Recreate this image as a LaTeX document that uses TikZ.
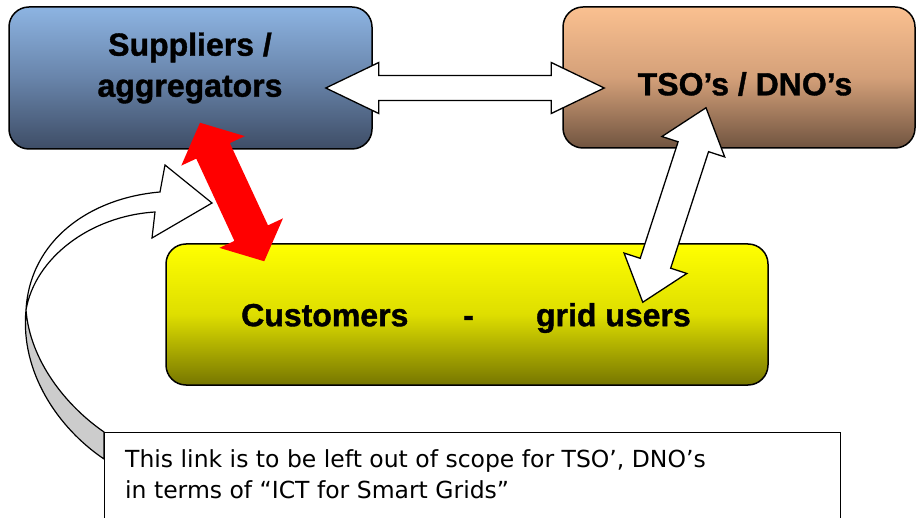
\documentclass[tikz,border=0pt]{standalone}
\usepackage{fontspec}
\setmainfont{Liberation Sans}[BoldFeatures={FakeBold=1.2}]
\newfontfamily\notefont{DejaVu Sans}
\usetikzlibrary{calc}

\definecolor{supTop}{RGB}{141,180,226}
\definecolor{supMid}{RGB}{104,132,170}
\definecolor{supBot}{RGB}{62,77,102}
\definecolor{tsoTop}{RGB}{250,192,144}
\definecolor{tsoMid}{RGB}{212,160,121}
\definecolor{tsoBot}{RGB}{112,84,64}
\definecolor{custTop}{RGB}{255,255,0}
\definecolor{custMid}{RGB}{222,222,0}
\definecolor{custBot}{RGB}{118,118,0}
\definecolor{ribbon}{RGB}{204,204,204}

% fat double arrow: from, to, shaft half width, head half width, head length, style
\newcommand{\fatarrow}[6]{%
  \coordinate (hA) at ($(#1)!#5!(#2)$);
  \coordinate (hB) at ($(#2)!#5!(#1)$);
  \path[#6] (#1) -- ($(hA)!#4!90:(#2)$) -- ($(hA)!#3!90:(#2)$)
    -- ($(hB)!#3!-90:(#1)$) -- ($(hB)!#4!-90:(#1)$) -- (#2)
    -- ($(hB)!#4!90:(#1)$) -- ($(hB)!#3!90:(#1)$)
    -- ($(hA)!#3!-90:(#2)$) -- ($(hA)!#4!-90:(#2)$) -- cycle;}

\begin{document}
\begin{tikzpicture}[x=1pt,y=-1pt,
  box/.style={draw, line width=1.5pt, rounded corners=20pt, inner sep=0pt},
  boxtext/.style={font=\fontsize{32}{41}\selectfont\bfseries, align=center, inner sep=0pt},
  fat/.style={draw, fill=white, line width=1.3pt, line join=miter},
  redfat/.style={fill=red}]
\useasboundingbox (0,0) rectangle (917,518);

\node[box, minimum width=363pt, minimum height=142pt,
  top color=supTop, bottom color=supBot, middle color=supMid] (sup) at (190.5,78) {};
\node[boxtext] (suptxt) at (190,68) {Suppliers /\\aggregators};

\node[box, minimum width=352pt, minimum height=141pt,
  top color=tsoTop, bottom color=tsoBot, middle color=tsoMid] (tso) at (739,77.5) {};
\node[boxtext] (tsotxt) at (745,84) {TSO’s / DNO’s};

\node[box, minimum width=602pt, minimum height=141pt,
  top color=custTop, bottom color=custBot, middle color=custMid] (cust) at (467,314.5) {};
\node[boxtext] (custtxt) at (466,318) {Customers\hspace{55pt}-\hspace{62pt}grid users};

% curved ribbon from the note up to the suppliers
\coordinate (ctip) at (212,203);
\coordinate (pinch) at (26,310);
\node[draw, line width=1.2pt, minimum width=736pt, minimum height=110pt, anchor=north west,
  inner sep=0pt] (note) at (104,432) {};
\coordinate (rA) at ($(note.north west)+(0,27)$);
\coordinate (rB) at (note.north west);
\draw[fill=ribbon, line width=1.2pt] (pinch) .. controls (20,372) and (58,428) .. (rA)
  -- (rB) .. controls (65,405) and (30,360) .. (pinch);
\draw[fill=white, line width=1.2pt, line join=miter] (ctip) -- ($(ctip)+(-47,-38)$) -- ($(ctip)+(-52,-11)$)
  .. controls (90,198) and (30,240) .. (pinch)
  .. controls (35,258) and (90,216) .. ($(ctip)+(-57,9)$) -- ($(ctip)+(-60,35)$) -- cycle;
\node[draw, fill=white, line width=1.2pt, minimum width=736pt, minimum height=110pt, anchor=north west,
  inner sep=0pt] at (note.north west) {};
\node[anchor=north west, align=left, inner sep=0pt,
  font=\notefont\fontsize{23.5}{31}\selectfont] (notetxt) at (125,449)
  {This link is to be left out of scope for TSO’, DNO’s\\in terms of “ICT for Smart Grids”};

% fat arrows between the boxes
\coordinate (supR) at ($(sup.east)+(-47,10)$);
\coordinate (tsoL) at ($(tso.west)+(42,10.5)$);
\fatarrow{supR}{tsoL}{12.5pt}{25.5pt}{53pt}{fat}

\coordinate (supB) at ($(sup.south)+(9.5,-27)$);
\coordinate (custT) at ($(cust.north west)+(99,18)$);
\fatarrow{supB}{custT}{18.5pt}{35pt}{31pt}{redfat}

\coordinate (tsoB) at ($(tso.south)+(-33,-41)$);
\coordinate (custR) at ($(cust.north east)+(-126,59)$);
\fatarrow{tsoB}{custR}{16pt}{33pt}{41pt}{fat}
\end{tikzpicture}
\end{document}
